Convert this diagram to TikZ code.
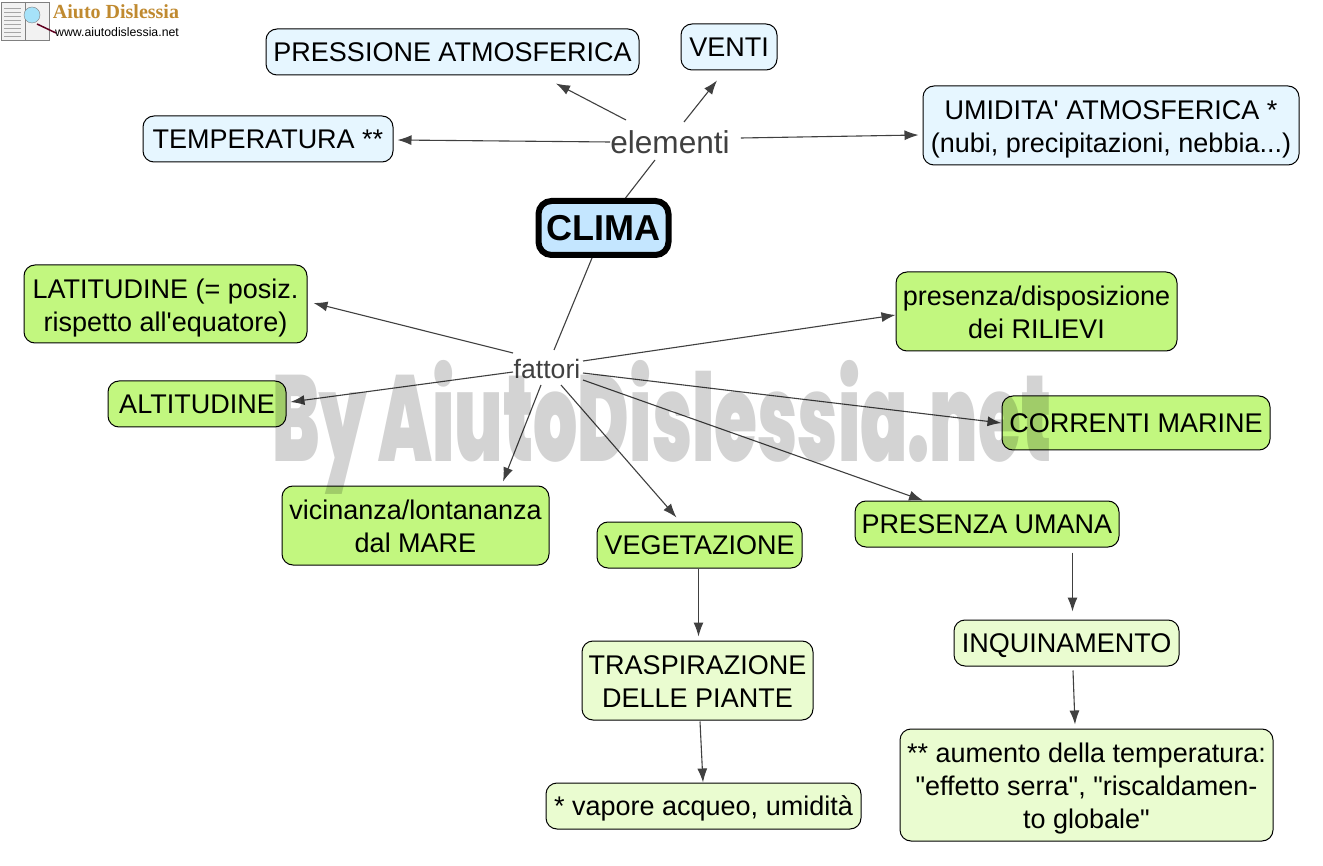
\documentclass[tikz,border=0pt]{standalone}
\usepackage{fontspec}
\defaultfontfeatures[\rmfamily]{}
\setmainfont{Liberation Sans}
\newfontfamily\logofont{Liberation Serif}[UprightFont={* Bold}]
\newfontfamily\wmfont{Poppins}[UprightFont={* Black},FakeStretch=.57]
\usepackage{xcolor}
\usetikzlibrary{positioning,calc,arrows.meta,shapes.misc}
\definecolor{bluebox}{HTML}{E6F6FF}
\definecolor{climabox}{HTML}{C4E6FF}
\definecolor{greenbox}{HTML}{C2F77F}
\definecolor{lightbox}{HTML}{EAFCD0}
\definecolor{linkcol}{HTML}{404040}
\definecolor{wmark}{HTML}{D3D3D3}
\definecolor{logogold}{HTML}{C08A30}
\newcommand{\cstrut}{\rule[-7pt]{0pt}{33pt}}
\newcommand{\ctop}{\rule[-7pt]{0pt}{35.5pt}}
\tikzset{
  concept/.style={draw=black,rounded corners=11pt,line width=1pt,align=center,inner sep=0pt,
    font=\fontsize{27}{33}\selectfont,execute at begin node=\cstrut},
  bluec/.style={concept,fill=bluebox},
  greenc/.style={concept,fill=greenbox},
  lightc/.style={concept,fill=lightbox},
  linkw/.style={text=linkcol,inner sep=0pt,font=\fontsize{26.6}{33}\selectfont},
  conn/.style={draw=linkcol,line width=1.1pt,-{Latex[length=14pt,width=10pt]}},
  plain/.style={draw=linkcol,line width=1.1pt}
}
\begin{document}
\begin{tikzpicture}[x=1pt,y=-1pt]
\useasboundingbox (0,0) rectangle (1323,866);
\fill[white] (0,0) rectangle (1323,866);
% logo
\node (book) [draw=gray,fill=gray!10,minimum width=48pt,minimum height=38pt,inner sep=0pt] at (25,21) {};
\draw[gray] (book.north) -- (book.south);
\foreach \y in {8,12,...,36} {\draw[gray!70,line width=.8pt] (4,\y) -- (21,\y);}
\draw[purple!50!black,line width=1.5pt] (book.center) ++(12,3) -- (56,33);
\fill[cyan!35,draw=gray] (32,15) circle (8pt);
\node (logoname) [text=logogold,font=\fontsize{20}{20}\logofont\selectfont,inner sep=0pt] at (116,12) {Aiuto Dislessia};
\node (logoweb) [font=\fontsize{12.3}{12}\selectfont,inner sep=0pt] at (117,32) {www.aiutodislessia.net};
% concepts
\node (pressione) [bluec,minimum width=373pt,minimum height=46pt] at (452.5,52) {PRESSIONE ATMOSFERICA};
\node (venti) [bluec,minimum width=96pt,minimum height=46pt] at (729,47) {VENTI};
\node (umidita) [bluec,minimum width=376pt,minimum height=79pt] at (1111,125.5) {\ctop UMIDITA' ATMOSFERICA *\\\cstrut(nubi, precipitazioni, nebbia...)};
\node (temperatura) [bluec,minimum width=250pt,minimum height=46pt] at (268,139) {TEMPERATURA **};
\node (clima) [draw=black,fill=climabox,rounded corners=13pt,line width=6pt,inner sep=0pt,minimum width=130pt,minimum height=54pt,
  font=\fontsize{36}{40}\selectfont\bfseries] at (603.5,228) {\raisebox{-1pt}{CLIMA}};
\node (latitudine) [greenc,minimum width=283pt,minimum height=78pt] at (165.5,304) {\ctop LATITUDINE (= posiz.\\\cstrut rispetto all'equatore)};
\node (rilievi) [greenc,minimum width=281pt,minimum height=79pt] at (1036.5,311.5) {\ctop presenza/disposizione\\\cstrut dei RILIEVI};
\node (altitudine) [greenc,minimum width=178pt,minimum height=46pt] at (197,404) {ALTITUDINE};
\node (correnti) [greenc,minimum width=268pt,minimum height=54pt] at (1136,423) {CORRENTI MARINE};
\node (mare) [greenc,minimum width=267pt,minimum height=79pt] at (415.5,525.5) {\ctop vicinanza/lontananza\\\cstrut dal MARE};
\node (vegetazione) [greenc,minimum width=205pt,minimum height=46pt] at (699.5,545) {VEGETAZIONE};
\node (umana) [greenc,minimum width=264pt,minimum height=46pt] at (987,524) {PRESENZA UMANA};
\node (traspirazione) [lightc,minimum width=231pt,minimum height=79pt] at (697.5,680.5) {\ctop TRASPIRAZIONE\\\cstrut DELLE PIANTE};
\node (inquinamento) [lightc,minimum width=225pt,minimum height=46pt] at (1066.5,643) {INQUINAMENTO};
\node (aumento) [lightc,minimum width=373pt,minimum height=112pt] at (1086.5,785) {\ctop ** aumento della temperatura:\\"effetto serra", "riscaldamen-\\\cstrut to globale"};
\node (vapore) [lightc,minimum width=315pt,minimum height=46pt] at (703.5,806) {* vapore acqueo, umidità};
% linking words
\node (elementi) [linkw,font=\fontsize{31.6}{33}\selectfont] at (670,142) {elementi};
\node (fattori) [linkw] at (547,369) {fattori};
% connectors
\draw[plain] ([xshift=22pt]clima.north) -- ([shift={(-15,18)}]elementi.center);
\draw[plain] ([xshift=-11.5pt]clima.south) -- ([shift={(7,-19)}]fattori.center);
\draw[conn] (elementi.west) -- ([shift={(4,1)}]temperatura.east);
\draw[conn] ([shift={(-44,-22)}]elementi.center) -- ([shift={(103.5,8)}]pressione.south);
\draw[conn] ([shift={(14,-20)}]elementi.center) -- ([shift={(-12,10)}]venti.south);
\draw[conn] ([shift={(11,-4)}]elementi.east) -- ([shift={(-4,9.5)}]umidita.west);
\draw[conn] ([shift={(-34,-16)}]fattori.center) -- ([shift={(6,-1)}]latitudine.east);
\draw[conn] ([shift={(-34,3)}]fattori.center) -- ([shift={(4,-2)}]altitudine.east);
\draw[conn] ([shift={(-6,16)}]fattori.center) -- ([shift={(87.5,-4)}]mare.north);
\draw[conn] ([shift={(14,16)}]fattori.center) -- ([shift={(-23,-4)}]vegetazione.north);
\draw[conn] ([shift={(36,11)}]fattori.center) -- ([shift={(-64,0)}]umana.north);
\draw[conn] ([shift={(36,4)}]fattori.center) -- (correnti.west);
\draw[conn] ([shift={(36,-8)}]fattori.center) -- ([shift={(0,3.5)}]rilievi.west);
\draw[conn] ([shift={(-1,0)}]vegetazione.south) -- ([shift={(1,-4)}]traspirazione.north);
\draw[conn] ([shift={(2.5,1)}]traspirazione.south) -- ([shift={(-0.5,0)}]vapore.north);
\draw[conn] ([shift={(85.5,5)}]umana.south) -- ([shift={(6,-8)}]inquinamento.north);
\draw[conn] ([shift={(6.5,4)}]inquinamento.south) -- ([shift={(-11.5,-4)}]aumento.north);
% watermark
\begin{scope}[blend mode=multiply]
\node (wmarktext) [text=wmark,inner sep=0pt,font=\fontsize{122}{122}\wmfont\selectfont] at (662,427) {By AiutoDislessia.net};
\end{scope}
\end{tikzpicture}
\end{document}
